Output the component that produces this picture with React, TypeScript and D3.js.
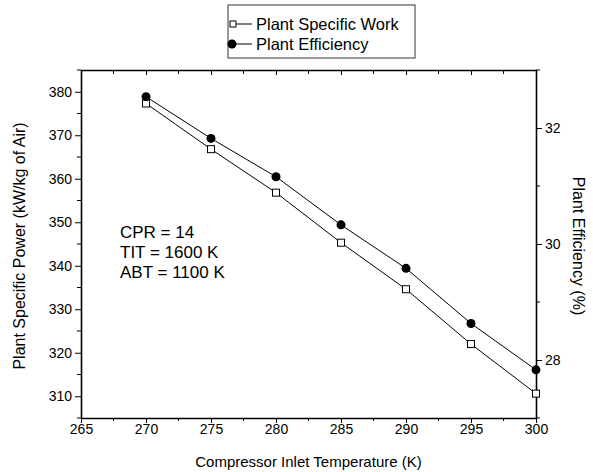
import React, {useEffect, useRef} from 'react';
import * as d3 from 'd3';

// compressor inlet temperature (K)
const temps = [270, 275, 280, 285, 290, 295, 300];
// plant specific work (kW/kg of air), left axis
const specificWork = [377.3, 366.8, 356.8, 345.3, 334.6, 322.0, 310.6];
// plant efficiency (%), right axis
const efficiency = [32.54, 31.82, 31.16, 30.33, 29.58, 28.63, 27.83];
// tick labels
const xTicks = [265, 270, 275, 280, 285, 290, 295, 300];
const leftTicks = [310, 320, 330, 340, 350, 360, 370, 380];
const rightTicks = [28, 30, 32];
const notes = ['CPR = 14', 'TIT = 1600 K', 'ABT = 1100 K'];

const App: React.FC = () => {
  const svgRef = useRef<SVGSVGElement>(null);

  useEffect(() => {
    const width = 593;
    const height = 472;
    const margin = {top: 70, right: 57, bottom: 54, left: 81};
    const font = '"Liberation Sans", Arial, Helvetica, sans-serif';

    const svg = d3.select(svgRef.current);
    svg.selectAll('*').remove();

    const x = d3.scaleLinear().domain([265, 300]).range([margin.left, width - margin.right]);
    const yL = d3.scaleLinear().domain([305, 385]).range([height - margin.bottom, margin.top]);
    const yR = d3.scaleLinear().domain([27, 33]).range([height - margin.bottom, margin.top]);

    const minorX = d3.range(265, 300.1, 2.5).filter((v) => v % 5 !== 0);
    const minorL = d3.range(305, 385.1, 5).filter((v) => v % 10 !== 0);
    const minorR = d3.range(27, 33.1, 1).filter((v) => v % 2 !== 0);

    // bottom axis
    const bottom = svg
      .append('g')
      .attr('transform', 'translate(0,' + (height - margin.bottom) + ')')
      .call(d3.axisBottom(x).tickValues(xTicks).tickSize(5).tickPadding(1).tickSizeOuter(0));
    bottom
      .append('g')
      .selectAll('line')
      .data(minorX)
      .enter()
      .append('line')
      .attr('x1', (d) => x(d))
      .attr('x2', (d) => x(d))
      .attr('y1', 0)
      .attr('y2', 3)
      .attr('stroke', '#000');

    // top axis (mirror, ticks inside)
    const top = svg
      .append('g')
      .attr('transform', 'translate(0,' + margin.top + ')')
      .call(d3.axisBottom(x).tickValues(xTicks).tickSize(5).tickFormat(() => '').tickSizeOuter(0));
    top
      .append('g')
      .selectAll('line')
      .data(minorX)
      .enter()
      .append('line')
      .attr('x1', (d) => x(d))
      .attr('x2', (d) => x(d))
      .attr('y1', 0)
      .attr('y2', 4)
      .attr('stroke', '#000');

    // left axis
    const left = svg
      .append('g')
      .attr('transform', 'translate(' + margin.left + ',0)')
      .call(d3.axisLeft(yL).tickValues(leftTicks).tickSize(6).tickPadding(3).tickSizeOuter(0));
    left
      .append('g')
      .selectAll('line')
      .data(minorL)
      .enter()
      .append('line')
      .attr('y1', (d) => yL(d))
      .attr('y2', (d) => yL(d))
      .attr('x1', 0)
      .attr('x2', -4)
      .attr('stroke', '#000');

    // right axis
    const right = svg
      .append('g')
      .attr('transform', 'translate(' + (width - margin.right) + ',0)')
      .call(
        d3
          .axisRight(yR)
          .tickValues(rightTicks)
          .tickFormat(d3.format('d'))
          .tickSize(6)
          .tickPadding(3)
          .tickSizeOuter(0),
      );
    right
      .append('g')
      .selectAll('line')
      .data(minorR)
      .enter()
      .append('line')
      .attr('y1', (d) => yR(d))
      .attr('y2', (d) => yR(d))
      .attr('x1', 0)
      .attr('x2', 4)
      .attr('stroke', '#000');

    svg.selectAll('.domain').attr('stroke', '#000').attr('stroke-width', 1.6);
    svg.selectAll('.tick line').attr('stroke', '#000').attr('stroke-width', 1);
    svg.selectAll('g').attr('font-family', font);
    svg
      .selectAll('.tick text')
      .attr('font-family', font)
      .attr('font-size', 14)
      .attr('fill', '#000');

    // series lines
    const lineL = d3
      .line<number>()
      .x((d, i) => x(temps[i]))
      .y((d) => yL(d));
    const lineR = d3
      .line<number>()
      .x((d, i) => x(temps[i]))
      .y((d) => yR(d));
    svg
      .append('path')
      .attr('d', lineL(specificWork))
      .attr('fill', 'none')
      .attr('stroke', '#000')
      .attr('stroke-width', 1);
    svg
      .append('path')
      .attr('d', lineR(efficiency))
      .attr('fill', 'none')
      .attr('stroke', '#000')
      .attr('stroke-width', 1);

    // markers
    svg
      .selectAll('.sq')
      .data(specificWork)
      .enter()
      .append('rect')
      .attr('class', 'sq')
      .attr('x', (d, i) => x(temps[i]) - 3.5)
      .attr('y', (d) => yL(d) - 3.5)
      .attr('width', 7)
      .attr('height', 7)
      .attr('fill', '#fff')
      .attr('stroke', '#000')
      .attr('stroke-width', 1);
    svg
      .selectAll('.dot')
      .data(efficiency)
      .enter()
      .append('circle')
      .attr('class', 'dot')
      .attr('cx', (d, i) => x(temps[i]))
      .attr('cy', (d) => yR(d))
      .attr('r', 4.5)
      .attr('fill', '#000');

    // axis titles
    svg
      .append('text')
      .attr('x', (margin.left + width - margin.right) / 2)
      .attr('y', 467)
      .attr('text-anchor', 'middle')
      .attr('font-family', font)
      .attr('font-size', 15)
      .text('Compressor Inlet Temperature (K)');
    svg
      .append('text')
      .attr('transform', 'translate(25,' + 246 + ') rotate(-90)')
      .attr('text-anchor', 'middle')
      .attr('font-family', font)
      .attr('font-size', 16)
      .text('Plant Specific Power (kW/kg of Air)');
    svg
      .append('text')
      .attr('transform', 'translate(573,' + 246 + ') rotate(90)')
      .attr('text-anchor', 'middle')
      .attr('font-family', font)
      .attr('font-size', 16)
      .text('Plant Efficiency (%)');

    // annotation
    svg
      .selectAll('.note')
      .data(notes)
      .enter()
      .append('text')
      .attr('class', 'note')
      .attr('x', 120)
      .attr('y', (d, i) => 238 + i * 20)
      .attr('font-family', font)
      .attr('font-size', 17)
      .text((d) => d);

    // legend
    const legend = svg.append('g').attr('transform', 'translate(228,5)');
    legend
      .append('rect')
      .attr('width', 187)
      .attr('height', 53)
      .attr('fill', '#fff')
      .attr('stroke', '#555')
      .attr('stroke-width', 1.2);
    const items = [
      {label: 'Plant Specific Work', kind: 'square'},
      {label: 'Plant Efficiency', kind: 'circle'},
    ];
    const row = legend
      .selectAll('.item')
      .data(items)
      .enter()
      .append('g')
      .attr('class', 'item')
      .attr('transform', (d, i) => 'translate(0,' + (19 + i * 20) + ')');
    row
      .append('line')
      .attr('x1', 2)
      .attr('x2', 24)
      .attr('y1', 0)
      .attr('y2', 0)
      .attr('stroke', '#000');
    row
      .filter((d) => d.kind === 'square')
      .append('rect')
      .attr('x', 2)
      .attr('y', -3)
      .attr('width', 6)
      .attr('height', 6)
      .attr('fill', '#fff')
      .attr('stroke', '#000');
    row
      .filter((d) => d.kind === 'circle')
      .append('circle')
      .attr('cx', 4)
      .attr('cy', 0)
      .attr('r', 4.5)
      .attr('fill', '#000');
    row
      .append('text')
      .attr('x', 28)
      .attr('y', 6)
      .attr('font-family', font)
      .attr('font-size', 16.5)
      .text((d) => d.label);
  }, []);

  return (
    <svg
      ref={svgRef}
      width={593}
      height={472}
      style={{position: 'absolute', left: 0, top: 0, background: '#fff'}}
    ></svg>
  );
};

export default App;
